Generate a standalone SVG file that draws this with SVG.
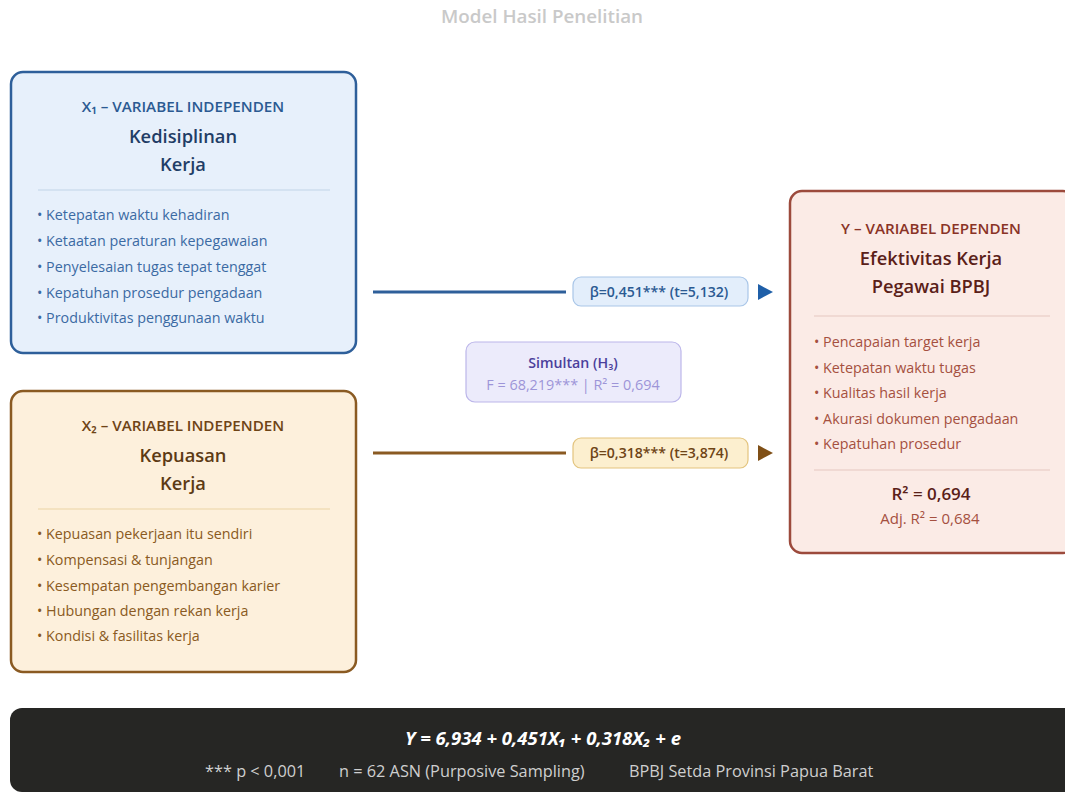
<svg xmlns="http://www.w3.org/2000/svg" width="1065" height="792" viewBox="0 0 1065 792">
<defs>
<style>
text{font-family:"Open Sans","Noto Sans","Liberation Sans",sans-serif;}
.title{font-size:18.8px;font-weight:600;fill:#c9c9c9;}
.lab{font-size:15.2px;font-weight:600;}
.head{font-size:18.3px;font-weight:600;}
.item{font-size:14.3px;}
.c{text-anchor:middle;}
.b1{fill:#2b5a92;} .b1i{fill:#3b6aa3;}
.o1{fill:#6e4416;} .o1i{fill:#8a5a22;}
.r1{fill:#8a3326;} .r1h{fill:#5a2018;} .r1i{fill:#a5503f;}
.pill{font-size:14.1px;font-weight:600;}
</style>
</defs>
<text class="title c" x="542" y="23">Model Hasil Penelitian</text>

<g id="x1">
<rect x="11" y="72" width="345" height="281" rx="12" fill="#e7f0fb" stroke="#2e5f9a" stroke-width="2.5"/>
<text class="lab c b1" x="183" y="112">X₁ – VARIABEL INDEPENDEN</text>
<text class="head c" fill="#1f3d66" x="183" y="143">Kedisiplinan</text>
<text class="head c" fill="#1f3d66" x="183" y="171">Kerja</text>
<line x1="38" y1="190" x2="330" y2="190" stroke="#c2d3e8" stroke-width="1.2"/>
<g class="item b1i">
<text x="37" y="220">• Ketepatan waktu kehadiran</text>
<text x="37" y="246">• Ketaatan peraturan kepegawaian</text>
<text x="37" y="272">• Penyelesaian tugas tepat tenggat</text>
<text x="37" y="298">• Kepatuhan prosedur pengadaan</text>
<text x="37" y="323">• Produktivitas penggunaan waktu</text>
</g>
</g>

<g id="x2">
<rect x="11" y="391" width="345" height="281" rx="12" fill="#fdf0dc" stroke="#8a5a22" stroke-width="2.5"/>
<text class="lab c o1" x="183" y="431">X₂ – VARIABEL INDEPENDEN</text>
<text class="head c" fill="#5c3a14" x="183" y="462">Kepuasan</text>
<text class="head c" fill="#5c3a14" x="183" y="490">Kerja</text>
<line x1="38" y1="509" x2="330" y2="509" stroke="#ecd3a3" stroke-width="1.2"/>
<g class="item o1i">
<text x="37" y="539">• Kepuasan pekerjaan itu sendiri</text>
<text x="37" y="565">• Kompensasi &amp; tunjangan</text>
<text x="37" y="591">• Kesempatan pengembangan karier</text>
<text x="37" y="616">• Hubungan dengan rekan kerja</text>
<text x="37" y="641">• Kondisi &amp; fasilitas kerja</text>
</g>
</g>

<g id="y">
<rect x="790" y="191" width="285" height="362" rx="12" fill="#fbebe6" stroke="#9c4a3c" stroke-width="2.5"/>
<text class="lab c r1" x="931" y="234">Y – VARIABEL DEPENDEN</text>
<text class="head c r1h" x="931" y="265">Efektivitas Kerja</text>
<text class="head c r1h" x="931" y="293">Pegawai BPBJ</text>
<line x1="814" y1="316" x2="1050" y2="316" stroke="#e6c7bf" stroke-width="1.2"/>
<g class="item r1i">
<text x="814" y="347">• Pencapaian target kerja</text>
<text x="814" y="373">• Ketepatan waktu tugas</text>
<text x="814" y="398">• Kualitas hasil kerja</text>
<text x="814" y="424">• Akurasi dokumen pengadaan</text>
<text x="814" y="449">• Kepatuhan prosedur</text>
</g>
<line x1="814" y1="470" x2="1050" y2="470" stroke="#e6c7bf" stroke-width="1.2"/>
<text class="c r1h" x="931" y="500" font-size="17" font-weight="600">R² = 0,694</text>
<text class="c r1i" x="930" y="524" font-size="15">Adj. R² = 0,684</text>
</g>

<g id="simultan">
<rect x="466" y="342" width="215" height="60" rx="9" fill="#ecebfb" stroke="#bcb6ea" stroke-width="1.2"/>
<text class="c" x="573" y="368" font-size="14.2" font-weight="600" fill="#4b3f9c">Simultan (H₃)</text>
<text class="c" x="573" y="390" font-size="14.4" fill="#9d95d8">F = 68,219*** | R² = 0,694</text>
</g>

<g id="connectors">
<line x1="373" y1="292" x2="566" y2="292" stroke="#2e5f9a" stroke-width="3"/>
<rect x="573" y="277" width="175" height="29" rx="8" fill="#e3eefb" stroke="#a9c6e8" stroke-width="1.2"/>
<text class="pill c" x="659" y="297" fill="#2b5a92">β=0,451*** (t=5,132)</text>
<path d="M758,284L773,292L758,300Z" fill="#1f5fa8"/>
<line x1="373" y1="453" x2="566" y2="453" stroke="#8a5a22" stroke-width="3"/>
<rect x="573" y="438" width="175" height="30" rx="8" fill="#fcefcf" stroke="#e3c47e" stroke-width="1.2"/>
<text class="pill c" x="659" y="458" fill="#6e4416">β=0,318*** (t=3,874)</text>
<path d="M758,445L773,453L758,461Z" fill="#7f4f16"/>
</g>

<g id="footer">
<rect x="10" y="708" width="1075" height="84" rx="12" fill="#262624"/>
<text class="c" x="543" y="745" font-size="18.5" font-weight="700" font-style="italic" fill="#ffffff">Y = 6,934 + 0,451X₁ + 0,318X₂ + e</text>
<g font-size="16.3" fill="#cfcfcf">
<text x="205" y="777">*** p &lt; 0,001</text>
<text x="339" y="777">n = 62 ASN (Purposive Sampling)</text>
<text x="629" y="777">BPBJ Setda Provinsi Papua Barat</text>
</g>
</g>
</svg>
